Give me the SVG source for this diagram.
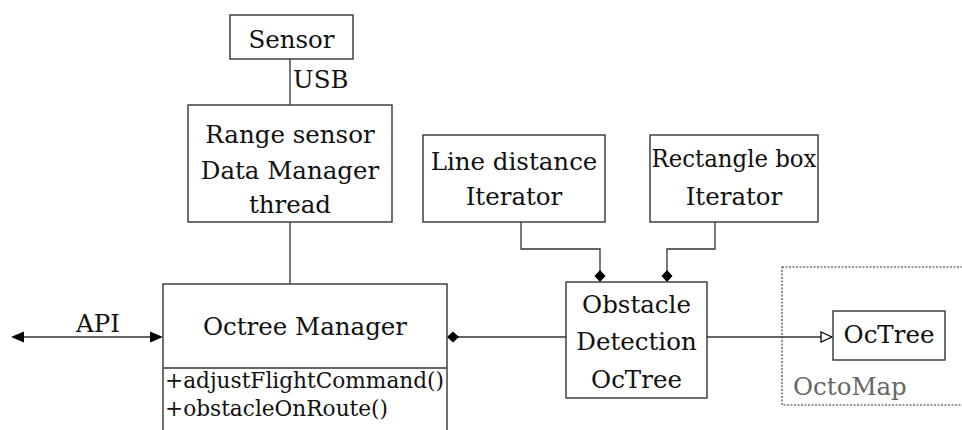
<svg xmlns="http://www.w3.org/2000/svg" width="962" height="430" viewBox="0 0 962 430">
  <style>
    .box { fill: #ffffff; stroke: #333333; stroke-width: 1.4; }
    .wire { fill: none; stroke: #333333; stroke-width: 1.3; }
    .lbl { font-size: 24.5px; fill: #111111; text-anchor: middle; }
    .mth { font-size: 22px; fill: #111111; }
    .pkg { font-size: 24.5px; fill: #666666; }
    .head { fill: #000000; }
    .open { fill: #ffffff; stroke: #000000; stroke-width: 1.3; }
  </style>
  <defs>
    <!-- arrowhead shapes, tip at the origin, pointing along +x -->
    <path id="diamond" d="M0,0 L-6,-5.5 L-12,0 L-6,5.5 Z"/>
    <path id="tri" d="M0,0 L-13,-5.5 L-13,5.5 Z"/>
    <path id="hollowTri" d="M0,0 L-11,-5 L-11,5 Z"/>
  </defs>

  <g font-family="DejaVu Serif, serif">
  <!-- OctoMap package frame (dotted, runs off the right edge) -->
  <g id="octomap">
    <rect x="782" y="267" width="190" height="138" fill="none" stroke="#333333" stroke-width="1.1" stroke-dasharray="2,1.5"/>
    <text class="pkg" x="793" y="395">OctoMap</text>
  </g>

  <g id="connectors">
    <!-- Sensor to data manager over USB -->
    <line class="wire" x1="290" y1="59" x2="290" y2="105"/>
    <text class="lbl" x="293" y="88" text-anchor="start" style="text-anchor:start">USB</text>
    <!-- Data manager to octree manager -->
    <line class="wire" x1="290" y1="222" x2="290" y2="284"/>
    <!-- API -->
    <line class="wire" x1="14" y1="337" x2="160" y2="337"/>
    <use href="#tri" class="head" transform="translate(163,337)"/>
    <use href="#tri" class="head" transform="translate(11,337) rotate(180)"/>
    <text class="lbl" x="98" y="332">API</text>
    <!-- Obstacle detection composed into octree manager -->
    <line class="wire" x1="566" y1="337" x2="458" y2="337"/>
    <use href="#diamond" class="head" transform="translate(447,337) rotate(180)"/>
    <!-- Iterators composed into obstacle detection -->
    <polyline class="wire" points="521,222 521,249 600,249 600,271"/>
    <use href="#diamond" class="head" transform="translate(600,282) rotate(90)"/>
    <polyline class="wire" points="715,222 715,249 667,249 667,271"/>
    <use href="#diamond" class="head" transform="translate(667,282) rotate(90)"/>
    <!-- Obstacle detection derives from OcTree -->
    <line class="wire" x1="707" y1="337" x2="822" y2="337"/>
    <use href="#hollowTri" class="open" transform="translate(832,337)"/>
  </g>

  <g id="sensor">
    <rect class="box" x="230" y="15" width="123" height="44"/>
    <text class="lbl" x="291.5" y="48">Sensor</text>
  </g>

  <g id="data-manager">
    <rect class="box" x="188" y="105" width="204" height="117"/>
    <text class="lbl" x="290" y="143">Range sensor</text>
    <text class="lbl" x="290" y="179">Data Manager</text>
    <text class="lbl" x="290" y="213">thread</text>
  </g>

  <g id="octree-manager">
    <rect class="box" x="163" y="284" width="284" height="160"/>
    <line class="wire" x1="163" y1="368" x2="447" y2="368"/>
    <text class="lbl" x="305" y="335">Octree Manager</text>
    <text class="mth" x="165" y="388" textLength="279" lengthAdjust="spacingAndGlyphs">+adjustFlightCommand()</text>
    <text class="mth" x="165" y="416" textLength="223" lengthAdjust="spacingAndGlyphs">+obstacleOnRoute()</text>
  </g>

  <g id="line-iterator">
    <rect class="box" x="423" y="135" width="182" height="87"/>
    <text class="lbl" x="514" y="170">Line distance</text>
    <text class="lbl" x="514" y="205">Iterator</text>
  </g>

  <g id="rect-iterator">
    <rect class="box" x="650" y="135" width="168" height="87"/>
    <text class="lbl" x="734" y="167" textLength="165" lengthAdjust="spacingAndGlyphs">Rectangle box</text>
    <text class="lbl" x="734" y="205">Iterator</text>
  </g>

  <g id="obstacle-detection">
    <rect class="box" x="566" y="282" width="141" height="116"/>
    <text class="lbl" x="636.5" y="313">Obstacle</text>
    <text class="lbl" x="636.5" y="350">Detection</text>
    <text class="lbl" x="636.5" y="388">OcTree</text>
  </g>

  <g id="octree">
    <rect class="box" x="833" y="311" width="112" height="49"/>
    <text class="lbl" x="889" y="343">OcTree</text>
  </g>
  </g>
</svg>
